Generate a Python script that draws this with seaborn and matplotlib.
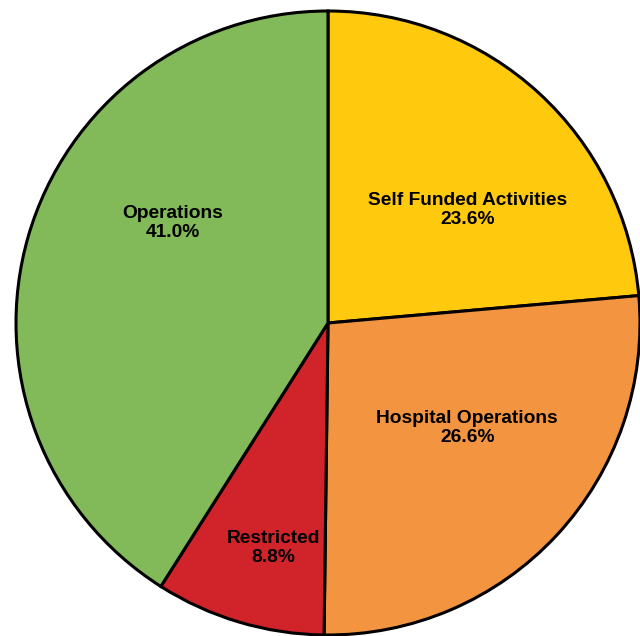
import matplotlib
matplotlib.use("Agg")
import matplotlib.pyplot as plt
import seaborn as sns

sns.set_theme(style="white")
plt.rcParams['font.family'] = ['Liberation Sans', 'DejaVu Sans']

categories = ["Self Funded Activities", "Hospital Operations", "Restricted", "Operations"]
values = [23.6, 26.6, 8.8, 41.0]
colors = ["#FFC90D", "#F39440", "#D0232A", "#82BA5A"]

fig = plt.figure(figsize=(6.4, 6.36), dpi=100)
W, H = 640, 636
cx, cy, r = 328, 323, 312
ax = fig.add_axes([(cx - r) / W, (H - cy - r) / H, 2 * r / W, 2 * r / H])

wedges, _ = ax.pie(values, colors=colors, startangle=90, counterclock=False,
                   radius=1.0,
                   wedgeprops=dict(edgecolor="black", linewidth=2.2),
                   center=(0, 0), frame=False)
ax.set_xlim(-1.0, 1.0)
ax.set_ylim(-1.0, 1.0)
ax.set_aspect("equal")
ax.axis("off")
for w in wedges:
    w.set_clip_on(False)

label_pos = [(0.446, 0.362), (0.446, -0.337), (-0.176, -0.72), (-0.497, 0.321)]
for cat, v, (x, y) in zip(categories, values, label_pos):
    ax.text(x, y, f"{cat}\n{v:.1f}%", ha="center", va="center",
            fontsize=13.8, fontweight="bold", color="black", linespacing=1.15)

fig.savefig("out.png", dpi=100)
